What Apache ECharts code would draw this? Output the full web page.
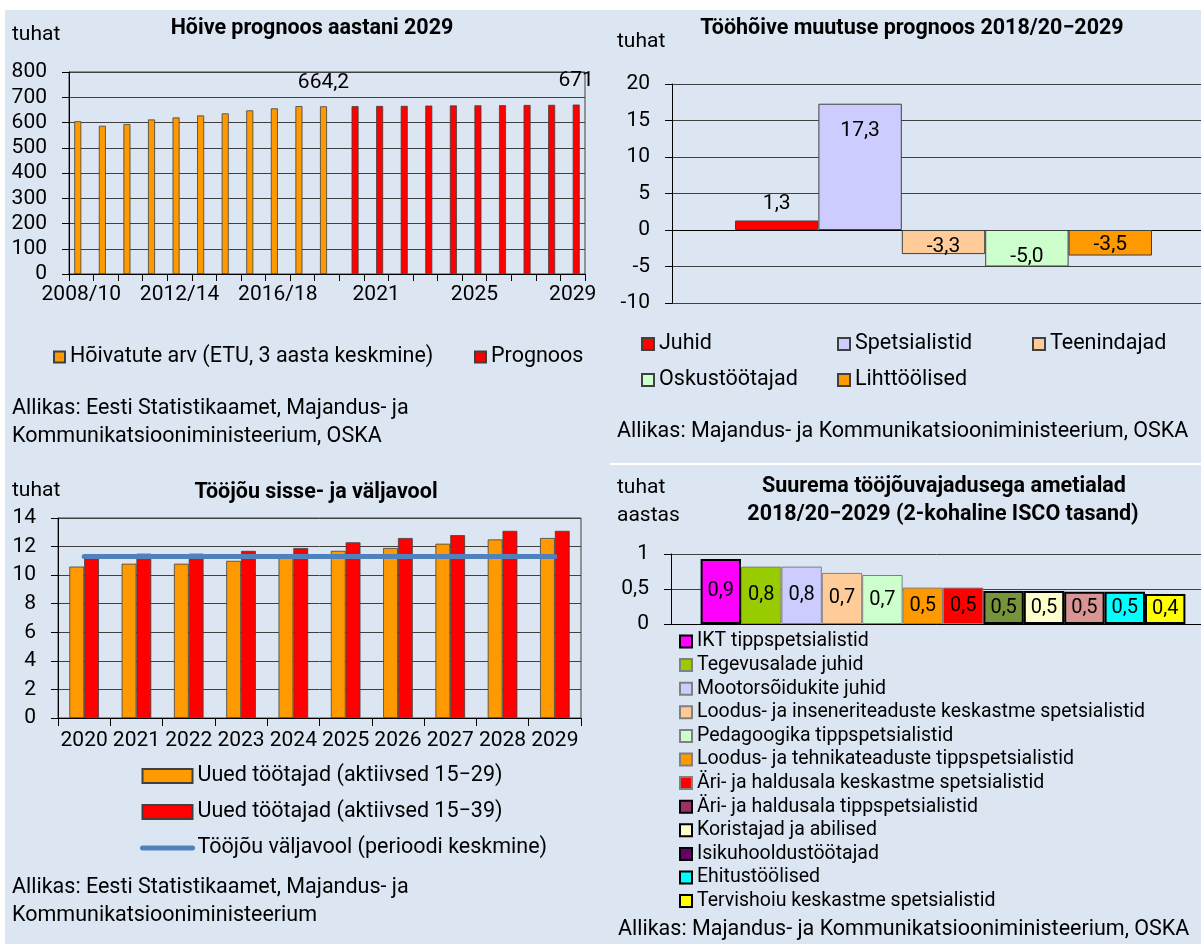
<!DOCTYPE html>
<html><head><meta charset="utf-8">
<script src="https://cdn.jsdelivr.net/npm/echarts@6/dist/echarts.min.js"></script>
<style>html,body{margin:0;padding:0;background:#fff}#c{width:1201px;height:944px}</style>
</head><body><div id="c"></div>
<script>
// ---------- DATA ----------
// Chart 1: Hõive prognoos aastani 2029
const employmentCategories = ['2008/10','2009/11','2010/12','2011/13','2012/14','2013/15','2014/16','2015/17','2016/18','2017/19','2018/20','2020','2021','2022','2023','2024','2025','2026','2027','2028','2029'];
const employmentHistory = [605, 587, 594, 612, 620, 628, 636, 648, 656, 665, 664.2];
const employmentForecast = [665, 665.5, 666, 667, 667.5, 668, 668.5, 669.5, 670, 671];
const employmentLabelled = ['2018/20', '2029'];
// Chart 2: Tööhõive muutuse prognoos 2018/20−2029
const changeGroups = ['Juhid', 'Spetsialistid', 'Teenindajad', 'Oskustöötajad', 'Lihttöölised'];
const changeValues = [1.3, 17.3, -3.3, -5.0, -3.5];
// Chart 3: Tööjõu sisse- ja väljavool
const flowYears = ['2020','2021','2022','2023','2024','2025','2026','2027','2028','2029'];
const newWorkers1529 = [10.6, 10.8, 10.8, 11.0, 11.3, 11.7, 11.9, 12.2, 12.5, 12.6];
const newWorkers1539 = [11.2, 11.5, 11.5, 11.7, 11.9, 12.3, 12.6, 12.8, 13.1, 13.1];
const outflowAverage = [11.3, 11.3, 11.3, 11.3, 11.3, 11.3, 11.3, 11.3, 11.3, 11.3];
// Chart 4: Suurema tööjõuvajadusega ametialad
const occupations = ['IKT tippspetsialistid','Tegevusalade juhid','Mootorsõidukite juhid','Loodus- ja inseneriteaduste keskastme spetsialistid','Pedagoogika tippspetsialistid','Loodus- ja tehnikateaduste tippspetsialistid','Äri- ja haldusala keskastme spetsialistid','Äri- ja haldusala tippspetsialistid','Koristajad ja abilised','Isikuhooldustöötajad','Ehitustöölised','Tervishoiu keskastme spetsialistid'];
const demandValues = [0.93, 0.82, 0.82, 0.73, 0.70, 0.52, 0.52, 0.47, 0.47, 0.46, 0.46, 0.43];

// ---------- STYLES ----------
const FONT = "Roboto,'Noto Sans',sans-serif";
const TXT = 21.5;
const BG = '#dce6f2';
const GRIDC = '#404040';
const changeColors = ['#ff0000', '#ccccff', '#ffcc99', '#ccffcc', '#ff9900'];
const changeLabelPos = ['top', 'insideTop', 'insideBottom', 'insideBottom', 'insideBottom'];
const changeLabelDist = [6, 17, -3, -1, 0];
const occColors = ['#ff00ff','#99cc00','#ccccff','#ffcc99','#ccffcc','#ff9900','#ff0000','#77933c','#ffffcc','#d99594','#00ffff','#ffff00'];
const occLegendColors = ['#ff00ff','#99cc00','#ccccff','#ffcc99','#ccffcc','#ff9900','#ff0000','#993366','#ffffcc','#660066','#00ffff','#ffff00'];
const occThick = [true,false,false,false,false,false,false,true,true,true,true,true];

const comma1 = v => Number(v).toFixed(1).replace('.', ',');
const commaRaw = v => String(v).replace('.', ',');

const chart = echarts.init(document.getElementById('c'), null, {renderer: 'canvas'});

function valueAxis(grid, min, max, interval, fmt) {
  return {
    type: 'value', gridIndex: grid, min, max, interval,
    axisLine: {show: true, lineStyle: {color: '#000', width: 1}},
    axisTick: {show: true, length: 7, lineStyle: {color: '#000'}},
    splitLine: {show: true, lineStyle: {color: GRIDC, width: 1}},
    axisLabel: {fontFamily: FONT, fontSize: 21, color: '#000', margin: 22, formatter: fmt}
  };
}

function txt(text, x, y, opts) {
  opts = opts || {};
  return {type: 'text', x, y, silent: true, style: {
    text, fill: '#000', fontFamily: FONT, fontSize: opts.size || TXT,
    fontWeight: opts.bold ? 'bold' : 'normal',
    align: opts.align || 'left', verticalAlign: 'middle'
  }};
}

// ---- chart 1 series data
const nHist = employmentHistory.length;
const histData = employmentCategories.map((c, i) => {
  if (i >= nHist) return null;
  const v = employmentHistory[i];
  return employmentLabelled.includes(c) ? {value: v, label: {show: true}} : v;
});
const progData = employmentCategories.map((c, i) => {
  if (i < nHist) return null;
  const v = employmentForecast[i - nHist];
  return employmentLabelled.includes(c) ? {value: v, label: {show: true}} : v;
});
const c1Label = {show: false, position: 'top', distance: 13, fontFamily: FONT, fontSize: 21, color: '#000', formatter: p => commaRaw(p.value)};

const series = [
  {type: 'bar', name: 'Hõivatute arv (ETU, 3 aasta keskmine)', xAxisIndex: 0, yAxisIndex: 0,
   barWidth: 7, barGap: '0%', data: histData, label: c1Label,
   itemStyle: {color: '#ff9900', borderColor: '#404040', borderWidth: 0.8}},
  {type: 'bar', name: 'Prognoos', xAxisIndex: 0, yAxisIndex: 0,
   barWidth: 7, barGap: '0%', data: progData, label: c1Label,
   itemStyle: {color: '#ff0000', borderColor: '#404040', borderWidth: 0.8}}
];

changeGroups.forEach((g, i) => {
  series.push({
    type: 'bar', name: g, xAxisIndex: 1, yAxisIndex: 1, barWidth: 83.4, barGap: '0%',
    data: [changeValues[i]],
    itemStyle: {color: changeColors[i], borderColor: '#404040', borderWidth: 1},
    label: {show: true, position: changeLabelPos[i], distance: changeLabelDist[i],
      fontFamily: FONT, fontSize: 21, color: '#000', formatter: p => comma1(p.value)}
  });
});

series.push(
  {type: 'bar', name: 'Uued töötajad (aktiivsed 15−29)', xAxisIndex: 2, yAxisIndex: 2,
   barWidth: 14.8, barGap: '0%', data: newWorkers1529,
   itemStyle: {color: '#ff9900', borderColor: '#404040', borderWidth: 0.8}},
  {type: 'bar', name: 'Uued töötajad (aktiivsed 15−39)', xAxisIndex: 2, yAxisIndex: 2,
   barWidth: 14.8, barGap: '0%', data: newWorkers1539,
   itemStyle: {color: '#ff0000', borderColor: '#404040', borderWidth: 0.8}},
  {type: 'line', name: 'Tööjõu väljavool (perioodi keskmine)', xAxisIndex: 2, yAxisIndex: 2,
   data: outflowAverage, symbol: 'none', showSymbol: false, z: 5,
   lineStyle: {color: '#4f81bd', width: 5, cap: 'round'}, itemStyle: {color: '#4f81bd'}}
);

occupations.forEach((o, i) => {
  series.push({
    type: 'bar', name: o, xAxisIndex: 3, yAxisIndex: 3, barWidth: 40.4, barGap: '0%',
    data: [demandValues[i]],
    itemStyle: {color: occColors[i], borderColor: occThick[i] ? '#000' : '#808080', borderWidth: occThick[i] ? 2 : 1},
    label: {show: true, position: 'inside', fontFamily: FONT, fontSize: 20, color: '#000', formatter: p => comma1(p.value)}
  });
});

function oneLegend(name, left, top, size) {
  return {data: [name], left, top, orient: 'horizontal', icon: 'rect', itemWidth: size, itemHeight: size,
    padding: 0, itemGap: 0, selectedMode: false,
    textStyle: {fontFamily: FONT, fontSize: TXT, color: '#000', lineHeight: 22}};
}

const option = {
  backgroundColor: BG,
  animation: false,
  textStyle: {fontFamily: FONT},
  grid: [
    {left: 69, top: 72, width: 516, height: 202, show: true, borderColor: GRIDC, borderWidth: 1, backgroundColor: 'transparent', outerBoundsMode: 'none'},
    {left: 672, top: 84, width: 543, height: 219, show: false, outerBoundsMode: 'none'},
    {left: 58, top: 518, width: 523, height: 200, show: true, borderColor: GRIDC, borderWidth: 1, backgroundColor: 'transparent', outerBoundsMode: 'none'},
    {left: 671, top: 554, width: 544, height: 70, show: false, outerBoundsMode: 'none'}
  ],
  xAxis: [
    {type: 'category', gridIndex: 0, data: employmentCategories,
     axisLine: {lineStyle: {color: '#000'}},
     axisTick: {show: true, interval: 0, length: 7, lineStyle: {color: '#000'}},
     axisLabel: {interval: 3, fontFamily: FONT, fontSize: 21, color: '#000', margin: 10}},
    {type: 'category', gridIndex: 1, data: [''],
     axisLine: {onZero: true, lineStyle: {color: '#000'}}, axisTick: {show: false}, axisLabel: {show: false}},
    {type: 'category', gridIndex: 2, data: flowYears,
     axisLine: {lineStyle: {color: '#000'}},
     axisTick: {show: true, interval: 0, length: 8, lineStyle: {color: '#000'}},
     axisLabel: {interval: 0, fontFamily: FONT, fontSize: 21, color: '#000', margin: 12}},
    {type: 'category', gridIndex: 3, data: [''],
     axisLine: {lineStyle: {color: '#000'}}, axisTick: {show: false}, axisLabel: {show: false}}
  ],
  yAxis: [
    valueAxis(0, 0, 800, 100),
    valueAxis(1, -10, 20, 5),
    valueAxis(2, 0, 14, 2),
    valueAxis(3, 0, 1, 0.5, v => commaRaw(v))
  ],
  legend: [
    oneLegend('Hõivatute arv (ETU, 3 aasta keskmine)', 53, 346, 11),
    oneLegend('Prognoos', 474, 346, 11),
    oneLegend('Juhid', 641, 333, 12),
    oneLegend('Spetsialistid', 837, 333, 12),
    oneLegend('Teenindajad', 1032, 333, 12),
    oneLegend('Oskustöötajad', 641, 369, 12),
    oneLegend('Lihttöölised', 837, 369, 12),
    {data: ['Uued töötajad (aktiivsed 15−29)', 'Uued töötajad (aktiivsed 15−39)',
            {name: 'Tööjõu väljavool (perioodi keskmine)', icon: 'inherit',
             itemStyle: {opacity: 0}, lineStyle: {width: 5, cap: 'round', color: '#4f81bd'}}],
     left: 140, top: 765, orient: 'vertical', icon: 'rect', itemWidth: 50, itemHeight: 14, itemGap: 14, padding: 0,
     selectedMode: false, textStyle: {fontFamily: FONT, fontSize: TXT, color: '#000', lineHeight: 22}},
    {data: occupations.map((o, i) => ({name: o, itemStyle: {color: occLegendColors[i]}})),
     left: 679, top: 631, orient: 'vertical', icon: 'rect', itemWidth: 12, itemHeight: 12, itemGap: 2.6, padding: 0,
     selectedMode: false, textStyle: {fontFamily: FONT, fontSize: 19.5, color: '#000', lineHeight: 21}}
  ],
  graphic: [
    {type: 'rect', shape: {x: 0, y: 0, width: 1201, height: 10}, style: {fill: '#fff'}, silent: true},
    {type: 'rect', shape: {x: 0, y: 0, width: 5, height: 944}, style: {fill: '#fff'}, silent: true},
    {type: 'rect', shape: {x: 610, y: 463, width: 591, height: 2}, style: {fill: '#fff'}, silent: true},
    txt('tuhat', 12, 35, {size: 21}),
    txt('Hõive prognoos aastani 2029', 312, 29, {bold: true, align: 'center'}),
    txt('Allikas: Eesti Statistikaamet, Majandus- ja', 12, 409),
    txt('Kommunikatsiooniministeerium, OSKA', 12, 437),
    txt('tuhat', 617, 42, {size: 21}),
    txt('Tööhõive muutuse prognoos 2018/20−2029', 912, 29, {bold: true, align: 'center'}),
    txt('Allikas: Majandus- ja Kommunikatsiooniministeerium, OSKA', 617, 432),
    txt('tuhat', 12, 491, {size: 21}),
    txt('Tööjõu sisse- ja väljavool', 316, 493, {bold: true, align: 'center'}),
    txt('Allikas: Eesti Statistikaamet, Majandus- ja', 12, 888),
    txt('Kommunikatsiooniministeerium', 12, 916),
    txt('tuhat', 617, 488, {size: 21}),
    txt('aastas', 617, 516, {size: 21}),
    txt('Suurema tööjõuvajadusega ametialad', 944, 487, {bold: true, align: 'center'}),
    txt('2018/20−2029 (2-kohaline ISCO tasand)', 943, 515, {bold: true, align: 'center'}),
    txt('Allikas: Majandus- ja Kommunikatsiooniministeerium, OSKA', 618, 930)
  ],
  series
};
chart.setOption(option);
</script>
</body></html>
